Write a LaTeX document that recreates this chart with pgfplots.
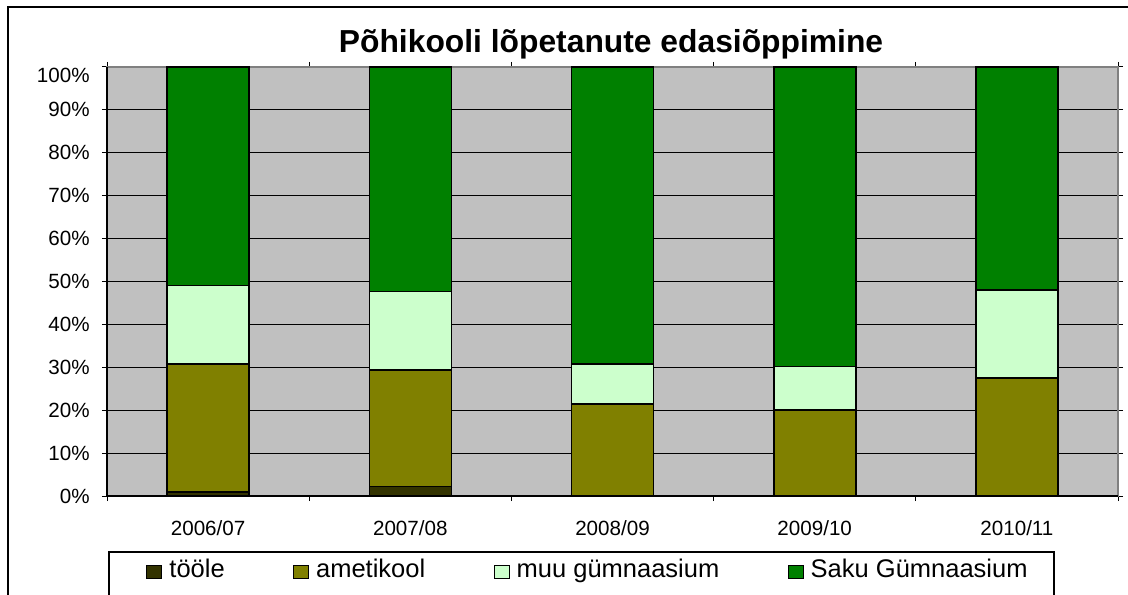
\documentclass[border=0pt]{standalone}
\usepackage{pgfplots}
\pgfplotsset{compat=1.18}
\usepackage{fontspec}
\setmainfont{Liberation Sans}
\definecolor{cTo}{HTML}{333300}
\definecolor{cAm}{HTML}{808000}
\definecolor{cMu}{HTML}{CCFFCC}
\definecolor{cSa}{HTML}{008000}
\definecolor{plotbg}{HTML}{C0C0C0}
\definecolor{bordgray}{HTML}{808080}
\begin{document}
\begin{tikzpicture}[x=0.5pt,y=0.5pt]
\useasboundingbox (0,0) rectangle (1128,594);
\clip (0,0) rectangle (1128,594);
\draw[black, line width=0.7pt] (8,-20) -- (8,587) -- (1160,587);
\node[anchor=base, inner sep=0pt, font=\bfseries\fontsize{15.9pt}{18pt}\selectfont] at (611,541) {Põhikooli lõpetanute edasiõppimine};
\begin{axis}[
  at={(53.5pt,49pt)}, anchor=south west,
  width=505.5pt, height=214.5pt, scale only axis,
  ybar stacked, bar width=41pt,
  enlargelimits=false,
  xmin=-0.5, xmax=4.5, ymin=0, ymax=100,
  xtick={0,1,2,3,4},
  xticklabels={2006/07,2007/08,2008/09,2009/10,2010/11},
  minor xtick={-0.5,0.5,1.5,2.5,3.5,4.5},
  ytick={0,10,...,100},
  yticklabels={0\%,10\%,20\%,30\%,40\%,50\%,60\%,70\%,80\%,90\%,\raisebox{-4.25pt}[\height][\depth]{100\%}},
  tick align=outside,
  major tick length=2.5pt, minor tick length=2.5pt,
  major x tick style={draw=none},
  minor x tick style={black, line width=0.5pt},
  major y tick style={black, line width=0.5pt},
  ymajorgrids, major grid style={black, line width=0.6pt},
  axis line style={bordgray, line width=0.6pt},
  axis background/.style={fill=plotbg},
  tick label style={font=\fontsize{10.3pt}{12pt}\selectfont},
  yticklabel style={anchor=east, inner xsep=0pt, xshift=-6pt},
  xticklabel style={anchor=north, inner ysep=0pt, yshift=-9.5pt},
  legend columns=4,
  legend image code/.code={\draw[#1, line width=0.5pt] (0pt,-4pt) rectangle (7.5pt,2.5pt);},
  legend style={draw=none, fill=none, at={(0.0386,-0.1725)}, anchor=west,
    inner sep=0pt, font=\fontsize{12.75pt}{15pt}\selectfont,
    nodes={inner xsep=0pt},
    /tikz/every odd column/.append style={column sep=3.5pt},
    /tikz/every even column/.append style={column sep=34.2pt}},
  every axis plot/.append style={draw=black, line width=0.8pt},
  after end axis/.code={\draw[black, line width=0.7pt] (rel axis cs:0,1) -- (rel axis cs:0,0) -- (rel axis cs:1,0);},
]
\addplot[fill=cTo] coordinates {(0,1.0) (1,2.2) (2,0) (3,0) (4,0)};
\addplot[fill=cAm] coordinates {(0,29.7) (1,27.2) (2,21.5) (3,20.1) (4,27.5)};
\addplot[fill=cMu] coordinates {(0,18.4) (1,18.3) (2,9.2) (3,10.1) (4,20.5)};
\addplot[fill=cSa] coordinates {(0,50.9) (1,52.3) (2,69.3) (3,69.8) (4,52.0)};
\legend{tööle, ametikool, muu gümnaasium, Saku Gümnaasium}
\end{axis}
\draw[black, line width=0.6pt] (109,42) rectangle (1054,-30);
\end{tikzpicture}
\end{document}
